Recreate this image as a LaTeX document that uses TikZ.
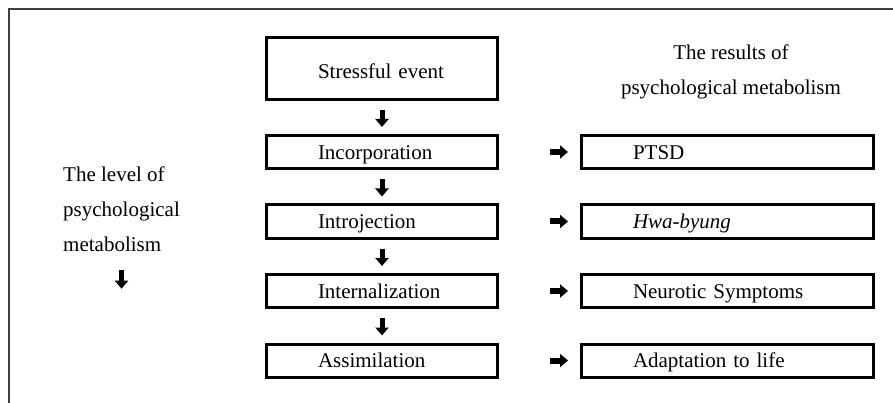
\documentclass[tikz,border=0pt]{standalone}
\usepackage{fontspec}
\setmainfont{Liberation Serif}
\usetikzlibrary{positioning,arrows.meta}
\tikzstyle{stage} = [rectangle, draw, line width=3pt, minimum width=231pt,
    minimum height=33pt, text width=128pt, align=left, inner xsep=0pt,
    text height=19pt, text depth=4.5pt]
\tikzstyle{result} = [rectangle, draw, line width=3pt, minimum width=292pt,
    minimum height=33pt, text width=189pt, align=left, inner xsep=0pt,
    text height=19pt, text depth=4.5pt]
\tikzstyle{fat} = [draw, line width=5pt, -{Triangle[width=13pt,length=8pt]}]
\tikzstyle{down} = [fat, shorten <=9pt, shorten >=7pt]
\tikzstyle{across} = [fat, line width=6pt, shorten <=51pt, shorten >=12pt]

\begin{document}
\begin{tikzpicture}[x=1pt, y=-1pt, node distance=33.5pt,
    font=\fontsize{21}{35}\selectfont]
    \useasboundingbox (0,0) rectangle (893,403);
    % frame
    \draw[line width=1.2pt, black!75] (893,9) -| (9,403);
    % stages
    \node [stage, minimum height=62pt, text height=24pt] (event) at (382,68.5) {Stressful event};
    \node [stage, below=33pt of event] (incorp) {Incorporation};
    \node [stage, below=of incorp] (introj) {Introjection};
    \node [stage, below=of introj] (intern) {Internalization};
    \node [stage, below=of intern] (assim) {Assimilation};
    % results
    \node [result, right=81pt of incorp] (ptsd) {PTSD};
    \node [result, right=81pt of introj] (hwa) {\textit{Hwa-byung}};
    \node [result, right=81pt of intern] (neuro) {Neurotic Symptoms};
    \node [result, right=81pt of assim] (adapt) {Adaptation to life};
    % titles
    \node [align=left, anchor=west, inner sep=0pt] (level) at (63,209)
        {The level of\\psychological\\metabolism};
    \node [align=center, inner sep=0pt] (results) at (731,71.6)
        {The results of\\psychological metabolism};
    \coordinate [below=37pt of level.south] (levelend);
    % arrows
    \path [down] (event) -- (incorp);
    \path [down] (incorp) -- (introj);
    \path [down] (introj) -- (intern);
    \path [down] (intern) -- (assim);
    \path [across] (incorp) -- (ptsd);
    \path [across] (introj) -- (hwa);
    \path [across] (intern) -- (neuro);
    \path [across] (assim) -- (adapt);
    \path [fat, shorten <=18pt] (level.south) -- (levelend);
\end{tikzpicture}
\end{document}
